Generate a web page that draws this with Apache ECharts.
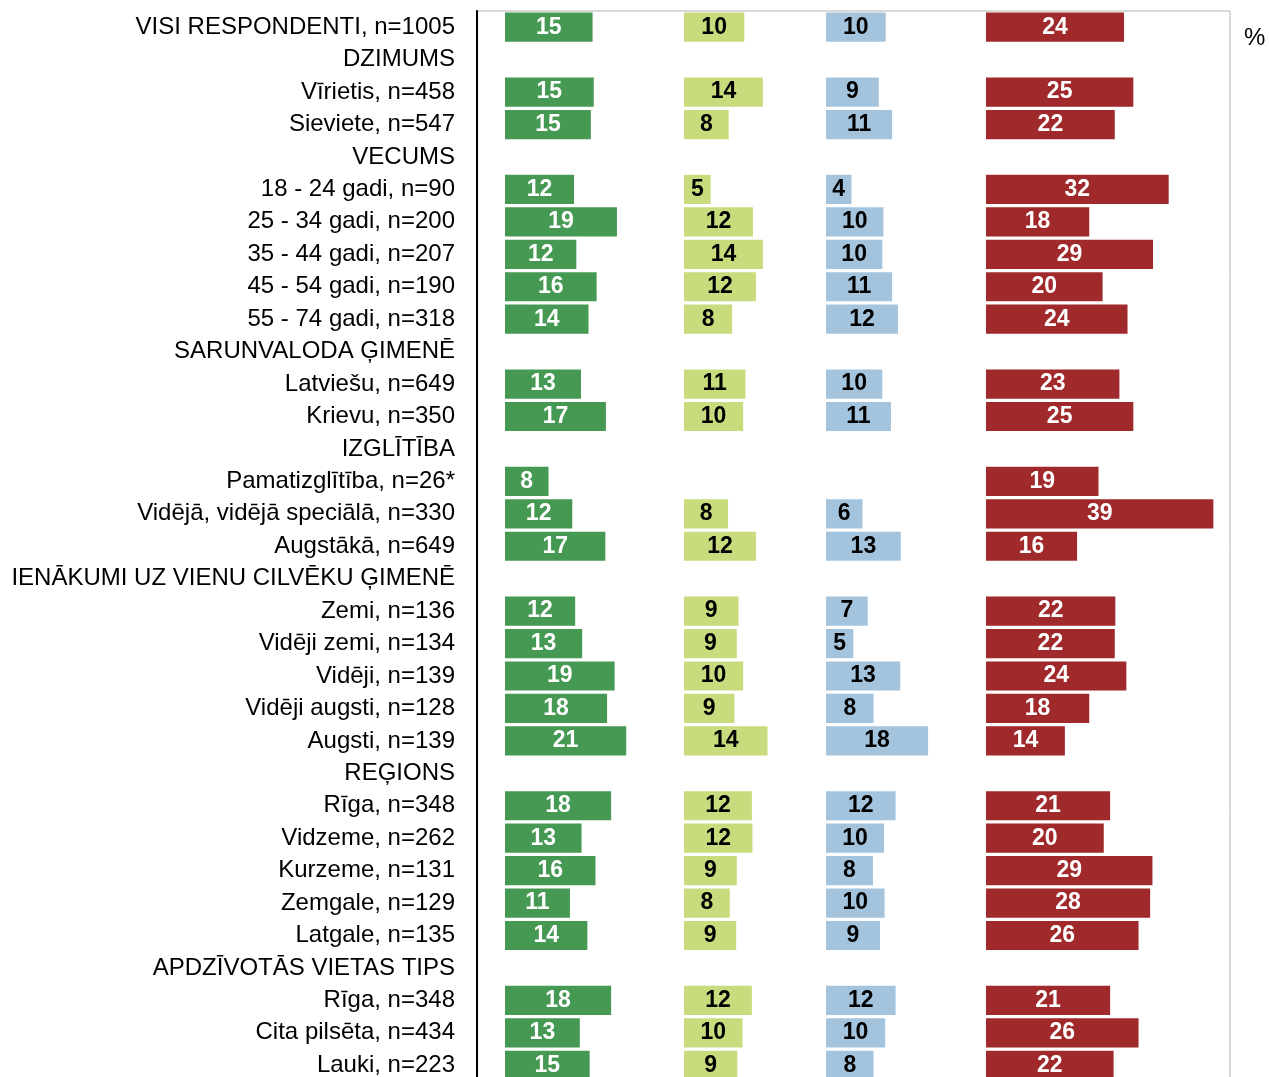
<!DOCTYPE html>
<html>
<head>
<meta charset="utf-8">
<script src="https://cdn.jsdelivr.net/npm/echarts@6/dist/echarts.min.js"></script>
<style>
html,body{margin:0;padding:0;background:#fff;overflow:hidden;}
#chart{width:1269px;height:1092px;}
</style>
</head>
<body>
<div id="chart"></div>
<script>
const categories = [
  'VISI RESPONDENTI, n=1005', 'DZIMUMS', 'Vīrietis, n=458', 'Sieviete, n=547',
  'VECUMS', '18 - 24 gadi, n=90', '25 - 34 gadi, n=200', '35 - 44 gadi, n=207',
  '45 - 54 gadi, n=190', '55 - 74 gadi, n=318', 'SARUNVALODA ĢIMENĒ',
  'Latviešu, n=649', 'Krievu, n=350', 'IZGLĪTĪBA', 'Pamatizglītība, n=26*',
  'Vidējā, vidējā speciālā, n=330', 'Augstākā, n=649',
  'IENĀKUMI UZ VIENU CILVĒKU ĢIMENĒ', 'Zemi, n=136', 'Vidēji zemi, n=134',
  'Vidēji, n=139', 'Vidēji augsti, n=128', 'Augsti, n=139', 'REĢIONS',
  'Rīga, n=348', 'Vidzeme, n=262', 'Kurzeme, n=131', 'Zemgale, n=129',
  'Latgale, n=135', 'APDZĪVOTĀS VIETAS TIPS', 'Rīga, n=348',
  'Cita pilsēta, n=434', 'Lauki, n=223'
];
const green = [15.1, null, 15.3, 14.8, null, 11.9, 19.3, 12.3, 15.8, 14.4, null, 13.1, 17.4, null, 7.5, 11.6, 17.3, null, 12.1, 13.3, 18.9, 17.6, 20.9, null, 18.3, 13.2, 15.6, 11.2, 14.2, null, 18.3, 12.9, 14.6];
const lightGreen = [10.4, null, 13.6, 7.7, null, 4.6, 11.9, 13.6, 12.4, 8.3, null, 10.6, 10.2, null, null, 7.6, 12.4, null, 9.4, 9.1, 10.2, 8.7, 14.4, null, 11.7, 11.8, 9.1, 7.9, 9.0, null, 11.7, 10.1, 9.2];
const lightBlue = [10.3, null, 9.1, 11.4, null, 4.4, 9.9, 9.7, 11.4, 12.4, null, 9.7, 11.2, null, null, 6.3, 12.9, null, 7.2, 4.7, 12.8, 8.2, 17.6, null, 12.0, 10.0, 8.1, 10.1, 9.3, null, 12.0, 10.2, 8.2];
const red = [23.8, null, 25.4, 22.2, null, 31.5, 17.8, 28.8, 20.1, 24.4, null, 23.0, 25.4, null, 19.4, 39.2, 15.7, null, 22.3, 22.2, 24.2, 17.8, 13.6, null, 21.4, 20.3, 28.7, 28.3, 26.3, null, 21.4, 26.3, 22.0];
const unitLabel = '%';

const FONT = "'Liberation Sans', Arial, sans-serif";
const TOP = 11, H = 1070.5;
const PX_PER_UNIT = 5.8, GROUP_MAX = 40;
const groups = [
  {data: green, left: 505, color: '#459953', text: '#ffffff'},
  {data: lightGreen, left: 684, color: '#C8DC7D', text: '#000000'},
  {data: lightBlue, left: 826, color: '#A4C4DE', text: '#000000'},
  {data: red, left: 986, color: '#A0292B', text: '#ffffff'}
];

const grid = [{left: 477, width: 753, top: TOP, height: H, show: true, borderColor: '#b3b3b3', borderWidth: 1, backgroundColor: 'transparent'}];
const xAxis = [{gridIndex: 0, type: 'value', min: 0, max: 1, show: false}];
const yAxis = [{
  gridIndex: 0, type: 'category', data: categories, inverse: true,
  axisLine: {show: true, lineStyle: {color: '#000', width: 2}},
  axisTick: {show: false}, splitLine: {show: false},
  axisLabel: {fontFamily: FONT, fontSize: 24, color: '#000', margin: 22}
}];
const series = [];
groups.forEach((g, i) => {
  const gi = i + 1;
  grid.push({left: g.left, width: GROUP_MAX * PX_PER_UNIT, top: TOP, height: H});
  xAxis.push({gridIndex: gi, type: 'value', min: 0, max: GROUP_MAX, show: false});
  yAxis.push({gridIndex: gi, type: 'category', data: categories, inverse: true, show: false});
  series.push({
    type: 'bar', xAxisIndex: gi, yAxisIndex: gi, data: g.data,
    barCategoryGap: '10%',
    itemStyle: {color: g.color},
    label: {
      show: true, position: 'inside', color: g.text,
      fontFamily: FONT, fontWeight: 'bold', fontSize: 23,
      formatter: p => String(Math.round(p.value))
    },
    silent: true
  });
});

const chart = echarts.init(document.getElementById('chart'), null, {renderer: 'canvas'});
chart.setOption({
  animation: false,
  backgroundColor: '#fff',
  grid, xAxis, yAxis, series,
  graphic: [{
    type: 'text', left: 1244, top: 26,
    style: {text: unitLabel, font: '24px ' + FONT, fill: '#000'}
  }]
});
</script>
</body>
</html>
